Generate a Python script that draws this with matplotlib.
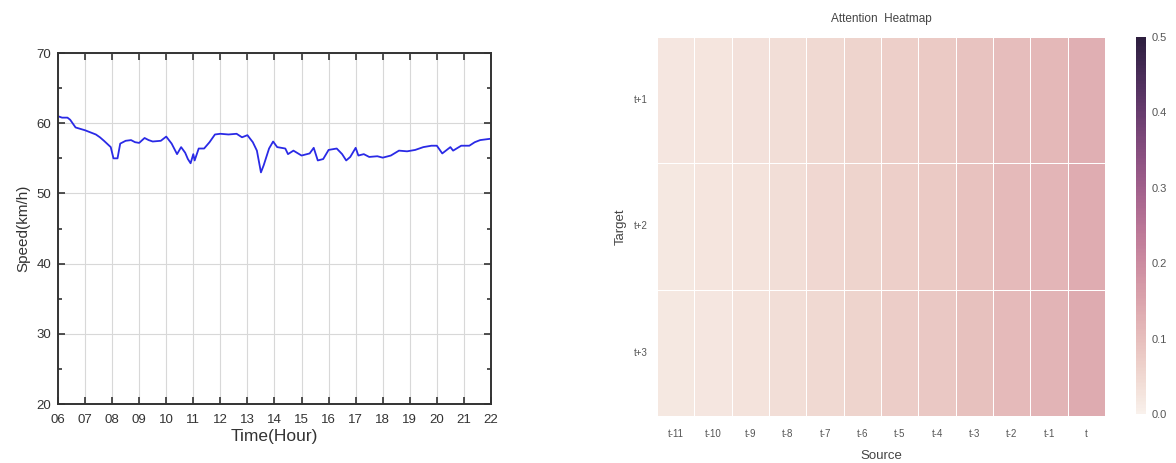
import matplotlib
matplotlib.use("Agg")
import matplotlib.pyplot as plt
from matplotlib.ticker import MultipleLocator
import numpy as np
import seaborn as sns

plt.rcParams['font.family'] = ['Liberation Sans', 'DejaVu Sans']

# speed over the day (hour, km/h)
hours = [6.0, 6.15, 6.35, 6.45, 6.65, 7.0, 7.2, 7.4, 7.55, 7.7, 7.95, 8.05, 8.2,
         8.3, 8.5, 8.7, 8.85, 9.0, 9.2, 9.35, 9.5, 9.8, 10.0, 10.2, 10.4, 10.55,
         10.7, 10.8, 10.9, 11.0, 11.05, 11.2, 11.4, 11.6, 11.8, 12.0, 12.3, 12.6,
         12.8, 13.0, 13.2, 13.35, 13.5, 13.6, 13.8, 13.95, 14.1, 14.4, 14.5, 14.7,
         15.0, 15.3, 15.45, 15.6, 15.8, 16.0, 16.3, 16.5, 16.65, 16.8, 17.0, 17.1,
         17.3, 17.5, 17.8, 18.0, 18.3, 18.6, 18.9, 19.2, 19.5, 19.8, 20.0, 20.2,
         20.5, 20.6, 20.9, 21.2, 21.4, 21.6, 21.8, 22.0]
speed = [61.0, 60.8, 60.8, 60.5, 59.4, 59.0, 58.7, 58.4, 58.0, 57.5, 56.6, 55.0, 55.0,
         57.1, 57.5, 57.6, 57.3, 57.2, 57.9, 57.6, 57.4, 57.5, 58.1, 57.1, 55.6, 56.6,
         55.8, 54.9, 54.3, 55.6, 54.7, 56.4, 56.4, 57.3, 58.4, 58.5, 58.4, 58.5,
         58.0, 58.3, 57.3, 56.1, 53.0, 54.0, 56.4, 57.4, 56.6, 56.4, 55.6, 56.1,
         55.4, 55.7, 56.5, 54.7, 54.9, 56.2, 56.4, 55.6, 54.7, 55.2, 56.5, 55.4,
         55.6, 55.2, 55.3, 55.1, 55.4, 56.1, 56.0, 56.2, 56.6, 56.8, 56.8, 55.7,
         56.6, 56.1, 56.8, 56.8, 57.3, 57.6, 57.7, 57.8]
hour_labels = ['%02d' % h for h in range(6, 23)]

# attention weights: rows = target steps, cols = source steps
source_labels = ['t-11', 't-10', 't-9', 't-8', 't-7', 't-6', 't-5', 't-4',
                 't-3', 't-2', 't-1', 't']
target_labels = ['t+1', 't+2', 't+3']
att_t1 = [0.022, 0.025, 0.032, 0.040, 0.050, 0.058, 0.068, 0.077, 0.090, 0.103, 0.113, 0.128]
att_t2 = [0.020, 0.024, 0.031, 0.041, 0.051, 0.060, 0.070, 0.080, 0.093, 0.106, 0.118, 0.133]
att_t3 = [0.019, 0.023, 0.030, 0.040, 0.050, 0.060, 0.071, 0.082, 0.095, 0.108, 0.120, 0.136]

fig = plt.figure(figsize=(11.76, 4.63), dpi=100)

# --- speed plot ---
ax = fig.add_axes([0.0493, 0.1274, 0.3682, 0.758])
ax.plot(hours, speed, color='#2a2ae6', lw=1.3)
ax.set_xlim(6, 22)
ax.set_ylim(20, 70)
ax.set_xticks(range(6, 23))
ax.set_xticklabels(hour_labels)
ax.yaxis.set_major_locator(MultipleLocator(10))
ax.yaxis.set_minor_locator(MultipleLocator(5))
ax.grid(True, which='major', color='#d8d8d8', lw=0.8)
ax.tick_params(which='both', direction='in', top=True, right=True, labelsize=9.5,
               colors='#333333', width=1.2)
ax.tick_params(which='major', length=5)
ax.tick_params(which='minor', length=3)
ax.tick_params(axis='x', pad=7)
ax.tick_params(axis='y', pad=5)
for s in ax.spines.values():
    s.set_linewidth(1.4)
    s.set_color('#333333')
ax.set_xlabel('Time(Hour)', fontsize=12.5, color='#333333', labelpad=2)
ax.set_ylabel('Speed(km/h)', fontsize=11, color='#333333', labelpad=4)

# --- attention heatmap ---
hax = fig.add_axes([0.5587, 0.1015, 0.381, 0.8186])
cax = fig.add_axes([0.966, 0.106, 0.0085, 0.814])
cmap = sns.cubehelix_palette(light=0.95, as_cmap=True)
sns.heatmap(np.array([att_t1, att_t2, att_t3]), ax=hax, cbar_ax=cax, cmap=cmap,
            vmin=0, vmax=0.5, linewidths=0.7, linecolor='white',
            xticklabels=source_labels, yticklabels=target_labels)
hax.tick_params(length=0, labelsize=7, colors='#555555')
hax.tick_params(axis='x', pad=9)
hax.tick_params(axis='y', pad=7)
hax.set_yticklabels(target_labels, rotation=0)
hax.set_title('Attention  Heatmap', fontsize=8.5, color='#444444', pad=11)
hax.set_xlabel('Source', fontsize=9.5, color='#444444', labelpad=8)
hax.set_ylabel('Target', fontsize=9.5, color='#444444')
hax.yaxis.set_label_coords(-0.068, 0.5)
cbar = hax.collections[0].colorbar
cbar.outline.set_visible(False)
cbar.set_ticks([0, 0.1, 0.2, 0.3, 0.4, 0.5])
cbar.set_ticklabels(['0.0', '0.1', '0.2', '0.3', '0.4', '0.5'])
cax.tick_params(length=0, labelsize=8, colors='#555555', pad=4)

fig.savefig('out.png', dpi=100)
